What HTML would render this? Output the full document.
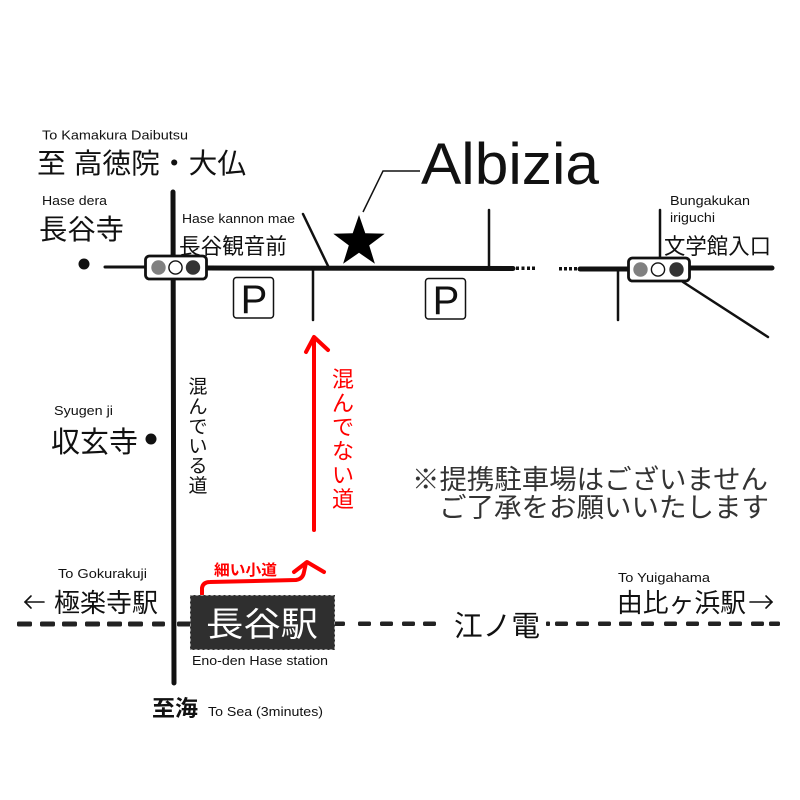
<!DOCTYPE html>
<html><head><meta charset="utf-8">
<style>
html,body{margin:0;padding:0;background:#fff;}
svg{display:block;}
text{font-family:"Liberation Sans","Noto Sans CJK JP",sans-serif;}
.j{font-family:"Liberation Sans","Noto Sans CJK JP",sans-serif;}
</style></head>
<body>
<svg width="800" height="800" viewBox="0 0 800 800" xmlns="http://www.w3.org/2000/svg">
<rect width="800" height="800" fill="#fff"/>

<!-- roads -->
<g stroke="#111" fill="none" stroke-linecap="round">
  <line x1="105" y1="267" x2="146" y2="267" stroke-width="3"/>
  <line x1="207" y1="268" x2="513" y2="268.5" stroke-width="5"/>
  <line x1="580" y1="269" x2="628" y2="269" stroke-width="5"/>
  <line x1="690" y1="268" x2="772" y2="268" stroke-width="5"/>
  <line x1="173" y1="192" x2="174" y2="683" stroke-width="5"/>
  <line x1="489" y1="210" x2="489" y2="268" stroke-width="2.5"/>
  <line x1="660" y1="210" x2="660" y2="258" stroke-width="2.5"/>
  <line x1="313" y1="268" x2="313" y2="320" stroke-width="2.5"/>
  <line x1="618" y1="269" x2="618" y2="320" stroke-width="2.5"/>
  <line x1="303" y1="214" x2="329" y2="268" stroke-width="2.5"/>
  <line x1="683" y1="282" x2="768" y2="337" stroke-width="2.5"/>
  <polyline points="363,212 383,171 420,171" stroke-width="1.5" stroke-linecap="butt"/>
</g>
<!-- dots on road -->
<g fill="#111">
  <rect x="516" y="266.5" width="3" height="3.5"/>
  <rect x="521.5" y="266.5" width="3" height="3.5"/>
  <rect x="527" y="266.5" width="3" height="3.5"/>
  <rect x="532" y="266.5" width="3" height="3.5"/>
  <rect x="559" y="267" width="3" height="3.5"/>
  <rect x="564" y="267" width="3" height="3.5"/>
  <rect x="569" y="267" width="3" height="3.5"/>
  <rect x="574" y="267" width="3" height="3.5"/>
  <circle cx="84" cy="264" r="5.5"/>
  <circle cx="151" cy="439" r="5.5"/>
</g>

<!-- traffic lights -->
<rect x="145.5" y="256" width="61" height="23" rx="4" fill="#fff" stroke="#111" stroke-width="2.8"/>
<circle cx="158.5" cy="267.5" r="7.2" fill="#808080"/>
<circle cx="175.5" cy="267.5" r="6.6" fill="#fff" stroke="#111" stroke-width="1.4"/>
<circle cx="193" cy="267.5" r="7.2" fill="#333"/>

<rect x="628.5" y="258" width="61" height="23" rx="4" fill="#fff" stroke="#111" stroke-width="2.8"/>
<circle cx="640.5" cy="269.5" r="7.2" fill="#808080"/>
<circle cx="658" cy="269.5" r="6.6" fill="#fff" stroke="#111" stroke-width="1.4"/>
<circle cx="676.5" cy="269.5" r="7.2" fill="#333"/>

<!-- star -->
<polygon fill="#000" points="359,215 365.3,233.3 384.7,233.7 369.2,245.4 374.9,263.8 359,252.8 343.1,263.8 348.8,245.4 333.3,233.7 352.7,233.3"/>

<!-- P boxes -->
<rect x="233.5" y="277.5" width="40" height="40.5" rx="3" fill="#fff" stroke="#111" stroke-width="1.5"/>
<text x="254" y="313" font-size="40" text-anchor="middle" fill="#111">P</text>
<rect x="425.5" y="278.5" width="40" height="40.5" rx="3" fill="#fff" stroke="#111" stroke-width="1.5"/>
<text x="446" y="314" font-size="40" text-anchor="middle" fill="#111">P</text>

<!-- Albizia -->
<text x="421" y="184" font-size="58" textLength="178" lengthAdjust="spacingAndGlyphs" fill="#111">Albizia</text>

<!-- top labels -->
<text x="42" y="139.5" font-size="12.5" textLength="146" lengthAdjust="spacingAndGlyphs" fill="#111">To Kamakura Daibutsu</text>
<text x="37" y="173" font-size="28" textLength="209" lengthAdjust="spacingAndGlyphs" fill="#111">至 高徳院・大仏</text>
<text x="42" y="205" font-size="12.5" textLength="65" lengthAdjust="spacingAndGlyphs" fill="#111">Hase dera</text>
<text x="39" y="239" font-size="28" textLength="85" lengthAdjust="spacingAndGlyphs" fill="#111">長谷寺</text>
<text x="182" y="223" font-size="12.5" textLength="113" lengthAdjust="spacingAndGlyphs" fill="#111">Hase kannon mae</text>
<text x="179" y="254" font-size="22" textLength="108" lengthAdjust="spacingAndGlyphs" fill="#111">長谷観音前</text>
<text x="670" y="205" font-size="12.5" textLength="80" lengthAdjust="spacingAndGlyphs" fill="#111">Bungakukan</text>
<text x="670" y="222" font-size="12.5" textLength="45" lengthAdjust="spacingAndGlyphs" fill="#111">iriguchi</text>
<text x="664" y="254" font-size="22" textLength="107" lengthAdjust="spacingAndGlyphs" fill="#111">文学館入口</text>

<text x="54" y="415" font-size="12.5" textLength="59" lengthAdjust="spacingAndGlyphs" fill="#111">Syugen ji</text>
<text x="51" y="452" font-size="29" textLength="87" lengthAdjust="spacingAndGlyphs" fill="#111">収玄寺</text>

<!-- vertical black text -->
<g font-size="19" text-anchor="middle" fill="#111">
  <text x="198" y="393">混</text>
  <text x="198" y="413">ん</text>
  <text x="198" y="433">で</text>
  <text x="198" y="452.5">い</text>
  <text x="198" y="472">る</text>
  <text x="198" y="492">道</text>
</g>

<!-- red vertical text -->
<g font-size="22" text-anchor="middle" fill="#f00">
  <text x="343" y="387">混</text>
  <text x="343" y="411">ん</text>
  <text x="343" y="435">で</text>
  <text x="343" y="459">な</text>
  <text x="343" y="483">い</text>
  <text x="343" y="507">道</text>
</g>

<!-- red arrows -->
<g stroke="#f00" fill="none" stroke-width="4" stroke-linecap="round" stroke-linejoin="round">
  <line x1="314" y1="530" x2="314" y2="338"/>
  <polyline points="306,352 314,337 328,350"/>
  <path d="M202,594 L202,588 Q203,582 210,582 L296,580 Q303,579 304,572 L306,563"/>
  <polyline points="294,572 307,562 324,572"/>
</g>
<text x="214" y="575" font-size="15" font-weight="bold" textLength="63" lengthAdjust="spacingAndGlyphs" fill="#f00">細い小道</text>

<!-- notice -->
<text x="412" y="489" font-size="27" textLength="356" lengthAdjust="spacingAndGlyphs" fill="#333">※提携駐車場はございません</text>
<text x="439" y="517" font-size="27" textLength="330" lengthAdjust="spacingAndGlyphs" fill="#333">ご了承をお願いいたします</text>

<!-- railway dashes -->
<g fill="#222">
  <rect x="17" y="621.5" width="15" height="5" rx="1.5"/>
  <rect x="40" y="621.5" width="15" height="5" rx="1.5"/>
  <rect x="62" y="621.5" width="15" height="5" rx="1.5"/>
  <rect x="85" y="621.5" width="15" height="5" rx="1.5"/>
  <rect x="107" y="621.5" width="15" height="5" rx="1.5"/>
  <rect x="128" y="621.5" width="15" height="5" rx="1.5"/>
  <rect x="152" y="621.5" width="13" height="5" rx="1.5"/>
  <rect x="177" y="621.5" width="14" height="5" rx="1.5"/>
  <rect x="334" y="621.5" width="11" height="4.5" rx="1.5"/>
  <rect x="358" y="621.5" width="13" height="4.5" rx="1.5"/>
  <rect x="380" y="621.5" width="13" height="4.5" rx="1.5"/>
  <rect x="402" y="621.5" width="13" height="4.5" rx="1.5"/>
  <rect x="423" y="621.5" width="13" height="4.5" rx="1.5"/>
  <rect x="546" y="621.5" width="4" height="4.5" rx="1"/>
  <rect x="555" y="621.5" width="13" height="4.5" rx="1.5"/>
  <rect x="576" y="621.5" width="13" height="4.5" rx="1.5"/>
  <rect x="598" y="621.5" width="13" height="4.5" rx="1.5"/>
  <rect x="619" y="621.5" width="13" height="4.5" rx="1.5"/>
  <rect x="641" y="621.5" width="13" height="4.5" rx="1.5"/>
  <rect x="664" y="621.5" width="13" height="4.5" rx="1.5"/>
  <rect x="686" y="621.5" width="13" height="4.5" rx="1.5"/>
  <rect x="708" y="621.5" width="13" height="4.5" rx="1.5"/>
  <rect x="729" y="621.5" width="13" height="4.5" rx="1.5"/>
  <rect x="751" y="621.5" width="13" height="4.5" rx="1.5"/>
  <rect x="769" y="621.5" width="11" height="4.5" rx="1.5"/>
</g>

<!-- station box -->
<rect x="190" y="595" width="145" height="55" fill="#2f2f2f"/>
<rect x="190.5" y="595.5" width="144" height="54" fill="none" stroke="#9a9a9a" stroke-width="1" stroke-dasharray="3,2"/>
<text x="206" y="636" font-size="34" textLength="112" lengthAdjust="spacingAndGlyphs" fill="#fff">長谷駅</text>
<text x="192" y="665" font-size="13" textLength="136" lengthAdjust="spacingAndGlyphs" fill="#111">Eno-den Hase station</text>

<!-- bottom labels -->
<text x="58" y="578" font-size="12.5" textLength="89" lengthAdjust="spacingAndGlyphs" fill="#111">To Gokurakuji</text>
<g stroke="#111" stroke-width="1.6" fill="none" stroke-linecap="round">
  <line x1="25" y1="602" x2="44" y2="602"/>
  <polyline points="31,596 25,602 31,608"/>
  <line x1="750" y1="602" x2="772" y2="602"/>
  <polyline points="766,596 772,602 766,608"/>
</g>
<text x="54" y="612" font-size="26" textLength="104" lengthAdjust="spacingAndGlyphs" fill="#111">極楽寺駅</text>

<text x="618" y="582" font-size="12.5" textLength="92" lengthAdjust="spacingAndGlyphs" fill="#111">To Yuigahama</text>
<text x="617" y="612" font-size="26" textLength="129" lengthAdjust="spacingAndGlyphs" fill="#111">由比ヶ浜駅</text>

<text x="454" y="636" font-size="29" textLength="86" lengthAdjust="spacingAndGlyphs" fill="#111">江ノ電</text>

<text x="152" y="716" font-size="22" font-weight="bold" textLength="46" lengthAdjust="spacingAndGlyphs" fill="#111">至海</text>
<text x="208" y="716" font-size="12.5" textLength="115" lengthAdjust="spacingAndGlyphs" fill="#111">To Sea (3minutes)</text>

</svg>
</body></html>
